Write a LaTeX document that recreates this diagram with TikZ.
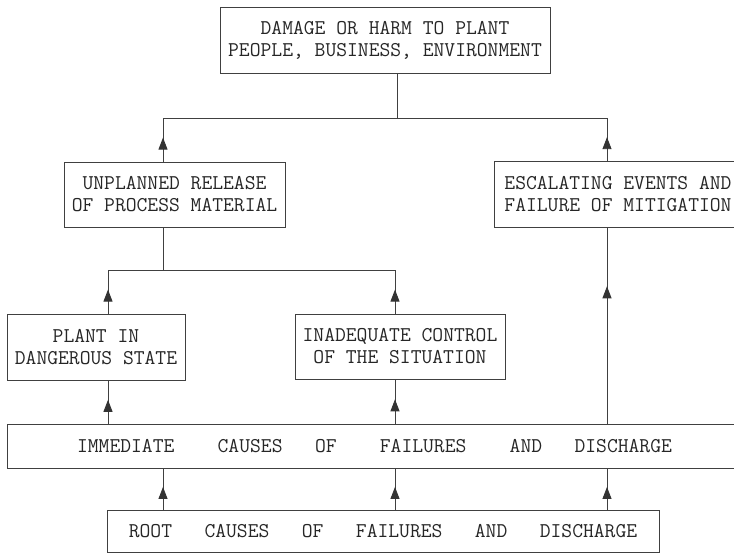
\documentclass[tikz,border=0pt]{standalone}
\usetikzlibrary{arrows.meta,decorations.markings}
\begin{document}
\begin{tikzpicture}[x=1pt,y=-1pt,
  box/.style={draw=black!75,line width=0.9pt,rectangle,inner sep=0pt,align=center,
    text=black!85,font=\ttfamily\fontsize{21}{22}\selectfont},
  link/.style={draw=black!75,line width=0.9pt},
  marrow/.style={link,decoration={markings,mark=at position #1 with {\arrow[black!80]{Triangle[width=9pt,length=12pt]}}},postaction={decorate}},
  marrow/.default=0.55]
\useasboundingbox (0,0) rectangle (734,555);
% boxes
\node[box,minimum width=330pt,minimum height=66pt] (top) at (385,40)
  {DAMAGE OR HARM TO PLANT\\PEOPLE, BUSINESS, ENVIRONMENT};
\node[box,minimum width=221pt,minimum height=65pt] (unp) at (174.5,194.5)
  {UNPLANNED RELEASE\\OF PROCESS MATERIAL};
\node[box,minimum width=248pt,minimum height=66pt] (esc) at (618,194)
  {ESCALATING EVENTS AND\\FAILURE OF MITIGATION};
\node[box,minimum width=178pt,minimum height=66pt] (plant) at (96,347)
  {PLANT IN\\DANGEROUS STATE};
\node[box,minimum width=210pt,minimum height=65pt] (inad) at (400,346.5)
  {INADEQUATE CONTROL\\OF THE SITUATION};
\node[box,minimum width=735pt,minimum height=44pt] (imm) at (374.5,446)
  {IMMEDIATE~~~~CAUSES~~~OF~~~~FAILURES~~~~AND~~~DISCHARGE};
\node[box,minimum width=552pt,minimum height=42pt] (root) at (383,531)
  {ROOT~~~CAUSES~~~OF~~~FAILURES~~~AND~~~DISCHARGE};
% junction coordinates
\coordinate (tj) at (397,118);
\coordinate (hL) at (163,118);
\coordinate (hR) at (607,118);
\coordinate (m)  at (163,270);
\coordinate (mL) at (108,270);
\coordinate (mR) at (395,270);
% connectors
\draw[link] (top.south -| tj) -- (tj);
\draw[link] (hL) -- (hR);
\draw[marrow] (unp.north -| hL) -- (hL);
\draw[marrow] (esc.north -| hR) -- (hR);
\draw[link] (unp.south -| m) -- (m);
\draw[link] (mL) -- (mR);
\draw[marrow] (plant.north -| mL) -- (mL);
\draw[marrow] (inad.north -| mR) -- (mR);
\draw[marrow] (imm.north -| mL) -- (plant.south -| mL);
\draw[marrow] (imm.north -| mR) -- (inad.south -| mR);
\draw[marrow=0.7] (imm.north -| hR) -- (esc.south -| hR);
\draw[marrow] (root.north -| hL) -- (imm.south -| hL);
\draw[marrow] (root.north -| mR) -- (imm.south -| mR);
\draw[marrow] (root.north -| hR) -- (imm.south -| hR);
\end{tikzpicture}
\end{document}
